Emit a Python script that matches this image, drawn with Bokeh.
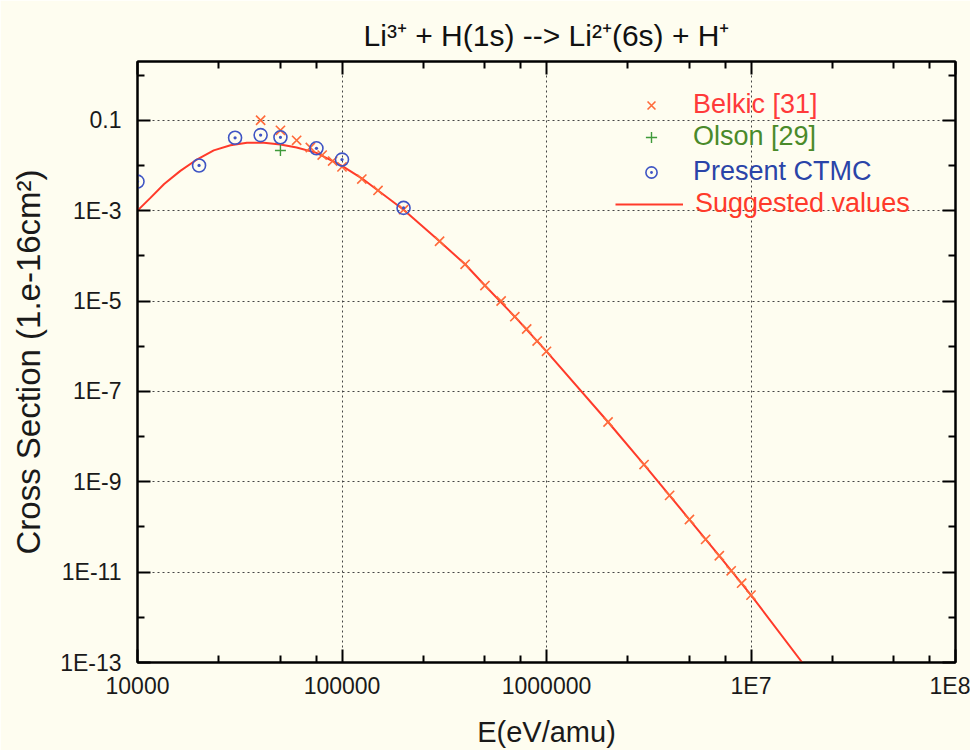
from bokeh.plotting import figure
from bokeh.models import FixedTicker, LogAxis, Legend, LegendItem, Range1d
from bokeh.embed import file_html
from bokeh.resources import INLINE

# ---------------- data ----------------
belkic_e = [4e4, 5e4, 6e4, 7e4, 8e4, 9e4, 1e5, 1.25e5, 1.5e5, 2e5, 3e5, 4e5, 5e5,
            6e5, 7e5, 8e5, 9e5, 1e6, 2e6, 3e6, 4e6, 5e6, 6e6, 7e6, 8e6, 9e6, 1e7]
belkic_cs = [0.1, 0.06, 0.036, 0.025, 0.017, 0.0125, 0.0093, 0.005, 0.0028, 1.05e-3,
             2.1e-4, 6.5e-5, 2.2e-5, 1.0e-5, 4.5e-6, 2.4e-6, 1.3e-6, 7.7e-7, 2.1e-8,
             2.4e-9, 5.0e-10, 1.46e-10, 5.3e-11, 2.3e-11, 1.07e-11, 5.7e-12, 3.1e-12]

olson_e = [5e4]
olson_cs = [0.0215]

ctmc_e = [1e4, 2e4, 3e4, 4e4, 5e4, 7.5e4, 1e5, 2e5]
ctmc_cs = [4.4e-3, 0.010, 0.041, 0.047, 0.042, 0.024, 0.0135, 1.15e-3]

sugg_e = [1e4, 1.16e4, 1.35e4, 1.62e4, 1.96e4, 2.36e4, 2.85e4, 3.43e4, 4.15e4, 5e4,
          6e4, 7.5e4, 1e5, 1.25e5, 1.5e5, 2e5, 3e5, 4e5, 5e5, 7e5, 1e6, 2e6, 3e6,
          5e6, 7e6, 1e7, 1.78e7]
sugg_cs = [1.0e-3, 1.94e-3, 3.9e-3, 7.6e-3, 0.0137, 0.0216, 0.028, 0.032, 0.032, 0.029,
           0.025, 0.019, 0.0098, 0.0052, 0.0028, 1.05e-3, 2.1e-4, 6.5e-5, 2.2e-5,
           4.5e-6, 7.7e-7, 2.1e-8, 2.4e-9, 1.46e-10, 2.3e-11, 3.1e-12, 1.0e-13]

x_major = [1e4, 1e5, 1e6, 1e7, 1e8]
x_major_labels = ["10000", "100000", "1000000", "1E7", "1E8"]
x_minor = [2.5e4, 5e4, 7.5e4, 2.5e5, 5e5, 7.5e5, 2.5e6, 5e6, 7.5e6, 2.5e7, 5e7, 7.5e7]
x_grid = [1e5, 1e6, 1e7]

y_major = [0.1, 1e-3, 1e-5, 1e-7, 1e-9, 1e-11, 1e-13]
y_major_labels = ["0.1", "1E-3", "1E-5", "1E-7", "1E-9", "1E-11", "1E-13"]
y_minor = [1.0, 1e-2, 1e-4, 1e-6, 1e-8, 1e-10, 1e-12]

title_text = "Li³⁺ + H(1s) --> Li²⁺(6s) + H⁺"
x_label = "E(eV/amu)"
y_label = "Cross Section (1.e-16cm²)"

# ---------------- style ----------------
BG = "#fefdf0"
FONT = "Liberation Sans"
C_BELKIC = "#ff6a3a"
C_BELKIC_TXT = "#ff3a3a"
C_OLSON = "#3f9a3a"
C_OLSON_TXT = "#4a8a2a"
C_CTMC = "#3f55c4"
C_CTMC_TXT = "#2a44a8"
C_LINE = "#ff3a2a"

p = figure(width=970, height=750, x_axis_type="log", y_axis_type="log",
           x_range=Range1d(1e4, 1e8), y_range=Range1d(1e-13, 2.0),
           output_backend="svg", toolbar_location=None,
           min_border_left=137, min_border_right=15, min_border_top=61,
           min_border_bottom=87,
           background_fill_color=BG, border_fill_color=BG)

p.outline_line_color = "black"
p.outline_line_width = 2

p.title.text = title_text
p.title.align = "center"
p.title.text_font = FONT
p.title.text_font_size = "30px"
p.title.text_font_style = "normal"
p.title.text_color = "#111111"
p.title.standoff = 20


def style_axis(ax, show_labels):
    ax.axis_line_color = "black"
    ax.axis_line_width = 2
    ax.major_tick_in = 13
    ax.major_tick_out = 0
    ax.minor_tick_in = 7
    ax.minor_tick_out = 0
    ax.major_tick_line_color = "black"
    ax.major_tick_line_width = 2
    ax.minor_tick_line_color = "black"
    ax.minor_tick_line_width = 2
    if show_labels:
        ax.major_label_text_font = FONT
        ax.major_label_text_font_size = "23px"
        ax.major_label_text_color = "#1a1a1a"
        ax.axis_label_text_font = FONT
        ax.axis_label_text_font_style = "normal"
        ax.axis_label_text_color = "#1a1a1a"
    else:
        ax.major_label_text_font_size = "1px"
        ax.major_label_text_color = None
        ax.major_label_standoff = 0


xb = p.xaxis[0]
xb.ticker = FixedTicker(ticks=x_major, minor_ticks=x_minor)
xb.major_label_overrides = dict(zip(x_major, x_major_labels))
style_axis(xb, True)
xb.axis_label = x_label
xb.axis_label_text_font_size = "29px"
xb.major_label_standoff = 10
xb.axis_label_standoff = 14

yl = p.yaxis[0]
yl.ticker = FixedTicker(ticks=y_major, minor_ticks=y_minor)
yl.major_label_overrides = dict(zip(y_major, y_major_labels))
style_axis(yl, True)
yl.axis_label = y_label
yl.axis_label_text_font_size = "33px"
yl.major_label_standoff = 16
yl.axis_label_standoff = 10

xt = LogAxis(ticker=FixedTicker(ticks=x_major, minor_ticks=x_minor))
style_axis(xt, False)
p.add_layout(xt, "above")

yr = LogAxis(ticker=FixedTicker(ticks=y_major, minor_ticks=y_minor))
style_axis(yr, False)
p.add_layout(yr, "right")

p.xgrid.ticker = FixedTicker(ticks=x_grid)
p.ygrid.ticker = FixedTicker(ticks=y_major)
for g in (p.xgrid, p.ygrid):
    g.grid_line_color = "#444444"
    g.grid_line_dash = "2 3"
    g.grid_line_width = 1

# ---------------- glyphs ----------------
r_line = p.line(sugg_e, sugg_cs, line_color=C_LINE, line_width=2)
r_belkic = p.scatter(belkic_e, belkic_cs, marker="x", size=13,
                     line_color=C_BELKIC, line_width=1.6)
r_olson = p.scatter(olson_e, olson_cs, marker="cross", size=11,
                    line_color=C_OLSON, line_width=1.4)
r_ctmc = p.scatter(ctmc_e, ctmc_cs, marker="circle_dot", size=13,
                   line_color=C_CTMC, fill_color=None, line_width=1.6)

# ---------------- legends (one per entry, for coloured text) ----------------
def add_legend(label, renderer, color, loc, gw, standoff):
    lg = Legend(items=[LegendItem(label=label, renderers=[renderer])],
                location=loc, orientation="vertical",
                padding=0, margin=0, spacing=0,
                glyph_width=gw, glyph_height=30, label_height=30,
                label_standoff=standoff,
                label_text_font=FONT, label_text_font_size="27px",
                label_text_color=color,
                border_line_color=None, background_fill_alpha=0)
    p.add_layout(lg, "center")


add_legend("Belkic [31]", r_belkic, C_BELKIC_TXT, (500, 542), 28, 28)
add_legend("Olson [29]", r_olson, C_OLSON_TXT, (500, 510), 28, 28)
add_legend("Present CTMC", r_ctmc, C_CTMC_TXT, (500, 475), 28, 28)
add_legend("Suggested values", r_line, C_LINE, (478, 443), 68, 12)

open("out.html", "w").write(file_html(p, INLINE))
